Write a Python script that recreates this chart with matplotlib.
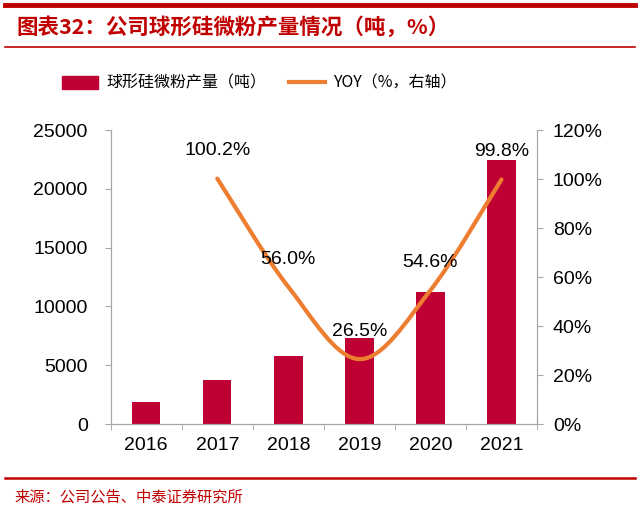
import numpy as np
import matplotlib
matplotlib.use('Agg')
import matplotlib.pyplot as plt
from matplotlib.path import Path
from matplotlib.patches import PathPatch, Rectangle
from matplotlib.lines import Line2D

plt.rcParams['font.family'] = ['Liberation Sans', 'Noto Sans CJK SC', 'DejaVu Sans']

years = ['2016', '2017', '2018', '2019', '2020', '2021']
output_t = [1870, 3740, 5780, 7310, 11220, 22450]
yoy_years = ['2017', '2018', '2019', '2020', '2021']
yoy_pct = [100.2, 56.0, 26.5, 54.6, 99.8]
yoy_labels = ['100.2%', '56.0%', '26.5%', '54.6%', '99.8%']

bar_color = '#BE0032'
line_color = '#ED7D31'
red = '#C00000'
axis_gray = '#A6A6A6'

fig = plt.figure(figsize=(6.4, 5.14), dpi=100)

# header / footer decorations
fig.add_artist(Line2D([0.008, 0.992], [0.990, 0.990], color=red, lw=3.5, transform=fig.transFigure))
fig.add_artist(Line2D([0.008, 0.992], [0.908, 0.908], color=red, lw=1.2, transform=fig.transFigure))
fig.add_artist(Line2D([0.008, 0.992], [0.070, 0.070], color=red, lw=1.8, transform=fig.transFigure))
fig.text(0.025, 0.948, '图表32：公司球形硅微粉产量情况（吨，%）', color=red, fontsize=15.5,
         fontweight='bold', fontstyle='italic', va='center', ha='left',
         family=['Noto Sans CJK SC', 'DejaVu Sans'])
fig.text(0.022, 0.033, '来源：公司公告、中泰证券研究所', color=red, fontsize=11,
         va='center', ha='left', family=['Noto Sans CJK SC', 'DejaVu Sans'])

ax = fig.add_axes([0.173, 0.175, 0.666, 0.572])
x = np.arange(len(years))
ax.bar(x, output_t, width=0.4, color=bar_color, zorder=2)
ax.set_xlim(-0.5, len(years) - 0.5)
ax.set_ylim(0, 25000)
ax.set_yticks(np.arange(0, 25001, 5000))
ax.set_xticks(x)
ax.set_xticklabels(years, fontsize=14)
ax.set_xticks(np.arange(-0.5, len(years), 1.0), minor=True)
ax.tick_params(axis='x', which='major', length=0, pad=9)
ax.tick_params(axis='x', which='minor', length=4.5, color=axis_gray, direction='out')
ax.tick_params(axis='y', length=4.5, color=axis_gray, labelsize=14, pad=12)
for s in ['top']:
    ax.spines[s].set_visible(False)
for s in ['left', 'bottom', 'right']:
    ax.spines[s].set_color(axis_gray)

ax2 = ax.twinx()
ax2.set_ylim(0, 120)
ax2.set_yticks(np.arange(0, 121, 20))
ax2.set_yticklabels([f'{v}%' for v in range(0, 121, 20)])
ax2.tick_params(axis='y', length=4.5, color=axis_gray, labelsize=14, pad=7)
ax2.spines['top'].set_visible(False)
for s in ['left', 'bottom', 'right']:
    ax2.spines[s].set_color(axis_gray)

# smoothed line (Bezier through the points, like a spreadsheet smooth line)
px = np.array([years.index(y) for y in yoy_years], dtype=float)
py = np.array(yoy_pct)
pts = np.column_stack([px, py])
ext = np.vstack([pts[0], pts, pts[-1]])
verts = [tuple(pts[0])]
codes = [Path.MOVETO]
for i in range(len(pts) - 1):
    p0, p1, p2, p3 = ext[i], ext[i + 1], ext[i + 2], ext[i + 3]
    c1 = p1 + (p2 - p0) / 6.0
    c2 = p2 - (p3 - p1) / 6.0
    verts += [tuple(c1), tuple(c2), tuple(p2)]
    codes += [Path.CURVE4] * 3
ax2.add_patch(PathPatch(Path(verts, codes), facecolor='none', edgecolor=line_color,
                        lw=3, capstyle='round', zorder=3))

for xi, yi, lab in zip(px, py, yoy_labels):
    ax2.annotate(lab, (xi, yi), xytext=(0, 20), textcoords='offset points',
                 ha='center', va='center', fontsize=14, color='black', zorder=4)

# legend
handles = [Rectangle((0, 0), 1, 1, color=bar_color),
           Line2D([0], [0], color=line_color, lw=3)]
fig.legend(handles, ['球形硅微粉产量（吨）', 'YOY（%，右轴）'], loc='center',
           bbox_to_anchor=(0.405, 0.838), ncol=2, frameon=False,
           handlelength=2.3, handleheight=0.9, columnspacing=1.4, handletextpad=0.5,
           prop={'family': ['Noto Sans CJK SC', 'DejaVu Sans'], 'size': 11.5})

fig.savefig('out.png', dpi=100)
